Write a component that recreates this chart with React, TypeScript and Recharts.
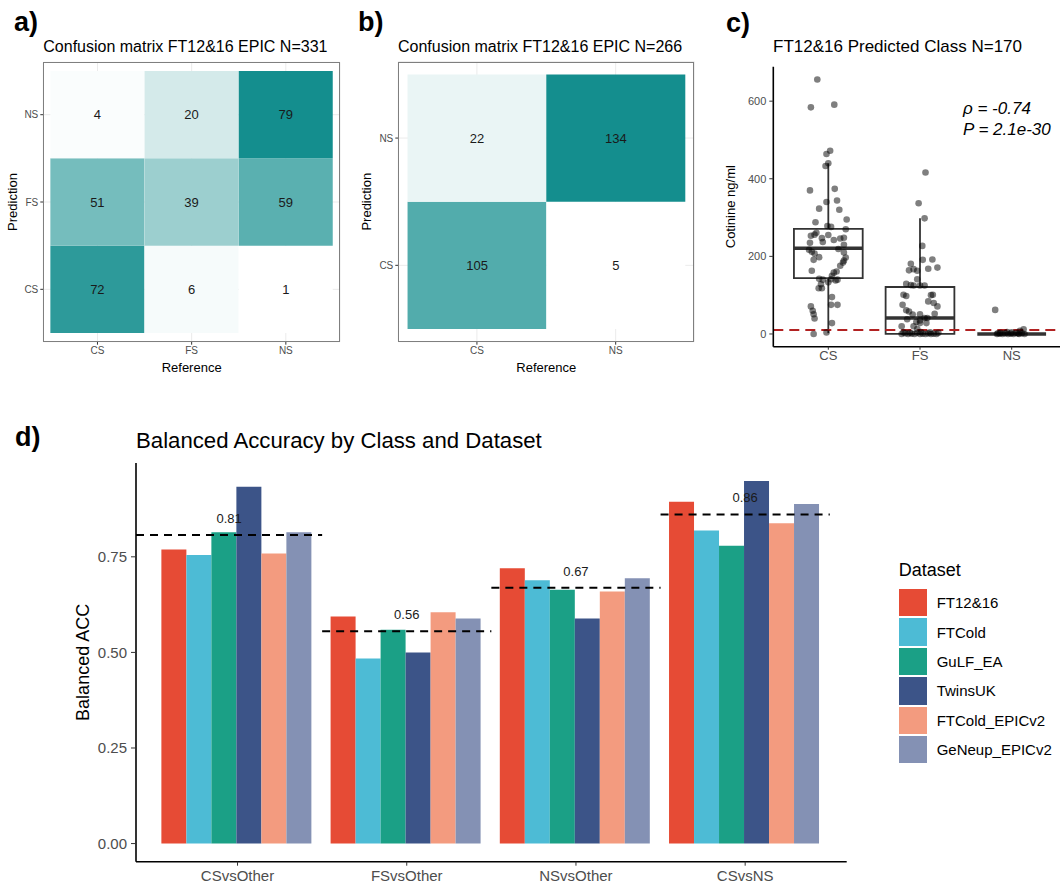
import React from 'react';
import {
  BarChart,
  Bar,
  XAxis,
  YAxis,
  CartesianGrid,
  Cell,
  LabelList,
  ScatterChart,
  Scatter,
  ReferenceArea,
  ReferenceLine,
  Legend,
} from 'recharts';

// ---- panel a / b: confusion matrices (rows = Prediction, bottom to top) ----
const CLASSES3 = ['CS', 'FS', 'NS'];
const CLASSES2 = ['CS', 'NS'];
const matrixA = [
  [72, 6, 1],
  [51, 39, 59],
  [4, 20, 79],
];
const matrixB = [
  [105, 5],
  [22, 134],
];

// ---- panel c: cotinine by predicted class, [jitter, ng/ml] ----
const cotCS: [number, number][] = [
  [-0.12, 656], [-0.19, 584], [0.065, 591], [0.02, 472], [-0.02, 464], [0, 440], [-0.03, 433],
  [-0.2, 370], [0.07, 374], [-0.02, 340], [0.095, 344], [-0.1, 323], [0.12, 320], [0.2, 295],
  [-0.14, 288], [-0.01, 278], [0.03, 276], [0.19, 270], [-0.19, 253], [-0.15, 256], [-0.13, 261],
  [-0.07, 247], [0, 255], [0.06, 242], [0.13, 246], [0.17, 248], [-0.2, 235], [-0.06, 237],
  [0.17, 230], [-0.21, 217], [-0.18, 212], [-0.15, 207], [0.11, 219], [0.17, 210], [0.19, 197],
  [0.17, 189], [-0.1, 198], [-0.16, 191], [0.16, 184], [0.13, 176], [-0.18, 163], [0.09, 161],
  [0.06, 158], [0.04, 150], [-0.1, 142], [-0.06, 140], [0.03, 141], [0.1, 140], [0.08, 138],
  [0, 133], [-0.08, 128], [-0.105, 118], [-0.07, 118], [0.04, 95], [0.03, 75], [0.1, 75],
  [-0.19, 71], [-0.17, 60], [-0.16, 51], [-0.15, 40], [0.04, 28], [-0.02, 4], [-0.16, 0],
];
const cotFS: [number, number][] = [
  [0.06, 416], [-0.015, 337], [0.05, 298], [0.025, 227], [-0.1, 181], [0.03, 191], [0.135, 192],
  [-0.07, 167], [-0.03, 163], [0.09, 168], [0.19, 171], [-0.12, 164], [-0.03, 141], [-0.15, 129],
  [-0.1, 126], [-0.07, 125], [0, 125], [0.05, 125], [-0.18, 101], [-0.15, 98], [0.14, 101],
  [0.12, 100], [0.09, 84], [0.15, 80], [0.19, 71], [-0.19, 75], [-0.15, 61], [-0.12, 58],
  [0, 51], [-0.08, 50], [0.16, 52], [0.08, 41], [0.05, 41], [-0.14, 38], [0, 35], [-0.04, 31],
  [0, 28], [0.07, 28], [-0.2, 20], [-0.07, 20], [-0.03, 13], [-0.2, 0], [-0.16, 2], [-0.13, 0],
  [-0.09, 1], [-0.06, 0], [-0.03, 3], [0, 0], [0.03, 1], [0.06, 0], [0.09, 2], [0.12, 0],
  [0.15, 1], [0.18, 0], [0.2, 3], [-0.18, 4], [-0.11, 3], [0.01, 5], [0.11, 4],
];
const cotNS: [number, number][] = [
  [-0.18, 62], [-0.16, 0], [-0.13, 1], [-0.1, 0], [-0.07, 2], [-0.04, 0], [-0.01, 1], [0.02, 0],
  [0.05, 3], [0.08, 0], [0.11, 2], [0.13, 12], [0.09, 8], [-0.12, 3], [0, 4], [-0.05, 5],
  [0.07, 1], [-0.15, 2], [0.14, 0],
];
// box stats per class: lower whisker, Q1, median, Q3, upper whisker
const boxLo = [2, 0, 0];
const boxQ1 = [144, 0, 0];
const boxMed = [221, 41, 0];
const boxQ3 = [271, 121, 0];
const boxHi = [440, 298, 0];
const cotTicks = [0, 200, 400, 600];

// ---- panel d: balanced accuracy ----
const comparisons = ['CSvsOther', 'FSvsOther', 'NSvsOther', 'CSvsNS'];
const datasets = ['FT12&16', 'FTCold', 'GuLF_EA', 'TwinsUK', 'FTCold_EPICv2', 'GeNeup_EPICv2'];
const accFT1216 = [0.769, 0.594, 0.72, 0.894];
const accFTCold = [0.755, 0.484, 0.689, 0.819];
const accGuLF = [0.814, 0.559, 0.664, 0.779];
const accTwins = [0.933, 0.5, 0.589, 0.948];
const accFTColdV2 = [0.759, 0.605, 0.659, 0.838];
const accGeNeup = [0.814, 0.589, 0.694, 0.888];
const accTicks = [0, 0.25, 0.5, 0.75];

const accSeries = [accFT1216, accFTCold, accGuLF, accTwins, accFTColdV2, accGeNeup];
const npg = ['#E64B35', '#4DBBD5', '#1BA086', '#3C5488', '#F39B7F', '#8491B4'];

const FONT = "'Liberation Sans', Arial, Helvetica, sans-serif";
const AXIS_TXT = '#4d4d4d';

function tileColor(v: number, lo: number, hi: number) {
  const t = Math.pow((v - lo) / (hi - lo), 1.2);
  const mix = (a: number, b: number) => Math.round(a + (b - a) * t);
  return `rgb(${mix(255, 20)},${mix(255, 142)},${mix(255, 142)})`;
}

interface HeatProps {
  cols: string[];
  rows: string[];
  counts: number[][];
  left: number;
  width: number;
  height: number;
  margin: { top: number; right: number; bottom: number; left: number };
  yAxisWidth: number;
  labelOffset: number;
}

function Heatmap({ cols, rows, counts, left, width, height, margin, yAxisWidth, labelOffset }: HeatProps) {
  const xAxisHeight = 30;
  const plotLeft = margin.left + yAxisWidth;
  const plotW = width - plotLeft - margin.right;
  const plotH = height - margin.top - margin.bottom - xAxisHeight;
  const pad = (plotW / (cols.length + 1.2)) * 0.1;
  const flat = counts.flat();
  const lo = Math.min(...flat);
  const hi = Math.max(...flat);

  const data = cols.map((c, j) => {
    const d: Record<string, number | string> = { refClass: c, base: 0.5 };
    rows.forEach((_, i) => {
      d['r' + i] = 1;
      d['n' + i] = counts[i][j];
    });
    return d;
  });

  return (
    <div style={{ position: 'absolute', left, top: 0, width, height }}>
      <BarChart width={width} height={height} data={data} margin={margin} barCategoryGap={0} barGap={0}>
        <CartesianGrid stroke="#ebebeb" strokeWidth={1} />
        <XAxis
          dataKey="refClass"
          padding={{ left: pad, right: pad }}
          interval={0}
          axisLine={false}
          tickLine={{ stroke: '#333' }}
          tickSize={3}
          tickMargin={2}
          tick={{ fontSize: 10, fill: AXIS_TXT }}
          height={xAxisHeight}
          label={{ value: 'Reference', position: 'insideBottom', offset: 0, fontSize: 13, fill: '#000' }}
        />
        <YAxis
          type="number"
          domain={[0.4, rows.length + 0.6]}
          allowDataOverflow
          ticks={rows.map((_, i) => i + 1)}
          tickFormatter={(v: number) => rows[v - 1]}
          interval={0}
          width={yAxisWidth}
          axisLine={false}
          tickLine={{ stroke: '#333' }}
          tickSize={3}
          tickMargin={2}
          tick={{ fontSize: 10, fill: AXIS_TXT }}
          label={{
            value: 'Prediction',
            angle: -90,
            position: 'insideLeft',
            offset: labelOffset,
            fontSize: 13,
            fill: '#000',
            style: { textAnchor: 'middle' },
          }}
        />
        <Bar dataKey="base" stackId="t" fill="none" isAnimationActive={false} />
        {rows.map((r, i) => (
          <Bar key={r} dataKey={'r' + i} stackId="t" isAnimationActive={false}>
            {data.map((_, j) => (
              <Cell key={j} fill={tileColor(counts[i][j], lo, hi)} />
            ))}
            <LabelList dataKey={'n' + i} position="center" fill="#1a1a1a" fontSize={13} />
          </Bar>
        ))}
      </BarChart>
      <div
        style={{
          position: 'absolute',
          left: plotLeft,
          top: margin.top,
          width: plotW,
          height: plotH,
          border: '1px solid #7f7f7f',
          boxSizing: 'border-box',
          pointerEvents: 'none',
        }}
      />
    </div>
  );
}

function CotininePanel() {
  const pts = [cotCS, cotFS, cotNS].flatMap((arr, k) => arr.map(([j, v]) => ({ x: k + 1 + j, y: v })));
  const half = 0.375;
  return (
    <div style={{ position: 'absolute', left: 700, top: 0, width: 380, height: 380 }}>
      <ScatterChart width={380} height={380} margin={{ top: 66.7, right: 13.3, bottom: 0, left: 13.3 }}>
        <XAxis
          type="number"
          dataKey="x"
          domain={[0.4, 3.6]}
          allowDataOverflow
          ticks={[1, 2, 3]}
          interval={0}
          tickFormatter={(v: number) => CLASSES3[v - 1]}
          height={33.3}
          axisLine={{ stroke: '#000', strokeWidth: 1.6 }}
          tickLine={{ stroke: '#333' }}
          tickSize={3}
          tickMargin={1}
          tick={{ fontSize: 13, fill: AXIS_TXT }}
        />
        <YAxis
          type="number"
          dataKey="y"
          domain={[-32.8, 688.8]}
          allowDataOverflow
          ticks={cotTicks}
          interval={0}
          width={60}
          axisLine={{ stroke: '#000', strokeWidth: 1.6 }}
          tickLine={{ stroke: '#333' }}
          tickSize={4}
          tickMargin={3}
          tick={{ fontSize: 11, fill: AXIS_TXT }}
          label={{
            value: 'Cotinine ng/ml',
            angle: -90,
            position: 'insideLeft',
            offset: 16.7,
            fontSize: 13,
            fill: '#000',
            style: { textAnchor: 'middle' },
          }}
        />
        {CLASSES3.map((c, k) => (
          <ReferenceArea
            key={'box' + c}
            x1={k + 1 - half}
            x2={k + 1 + half}
            y1={boxQ1[k]}
            y2={boxQ3[k]}
            fill="none"
            fillOpacity={0}
            stroke="#333"
            strokeWidth={1.8}
          />
        ))}
        {CLASSES3.map((c, k) => (
          <ReferenceLine
            key={'med' + c}
            segment={[{ x: k + 1 - half, y: boxMed[k] }, { x: k + 1 + half, y: boxMed[k] }]}
            stroke="#333"
            strokeWidth={3.5}
          />
        ))}
        {CLASSES3.map((c, k) => (
          <ReferenceLine
            key={'wu' + c}
            segment={[{ x: k + 1, y: boxQ3[k] }, { x: k + 1, y: boxHi[k] }]}
            stroke="#333"
            strokeWidth={1.8}
          />
        ))}
        {CLASSES3.map((c, k) => (
          <ReferenceLine
            key={'wl' + c}
            segment={[{ x: k + 1, y: boxLo[k] }, { x: k + 1, y: boxQ1[k] }]}
            stroke="#333"
            strokeWidth={1.8}
          />
        ))}
        <ReferenceLine y={10} stroke="#B22222" strokeWidth={2} strokeDasharray="10 6" />
        <Scatter
          data={pts}
          isAnimationActive={false}
          shape={(p: any) => <circle cx={p.cx} cy={p.cy} r={3.3} fill="#000" fillOpacity={0.5} />}
        />
      </ScatterChart>
    </div>
  );
}

function DatasetLegend(props: any) {
  const payload: any[] = [...(props.payload || [])].sort(
    (a, b) => datasets.indexOf(a.value) - datasets.indexOf(b.value),
  );
  return (
    <div style={{ fontFamily: FONT, color: '#000' }}>
      <div style={{ fontSize: 18, lineHeight: '18px', marginBottom: 9 }}>Dataset</div>
      {payload.map((p) => (
        <div key={p.value} style={{ display: 'flex', alignItems: 'center', height: 29.4 }}>
          <span
            style={{ display: 'inline-block', width: 28, height: 27.5, background: npg[datasets.indexOf(p.value)] }}
          />
          <span style={{ marginLeft: 10, fontSize: 15 }}>{p.value}</span>
        </div>
      ))}
    </div>
  );
}

function AccuracyPanel() {
  const data = comparisons.map((c, i) => {
    const d: Record<string, number | string> = { pos: i + 1, cmp: c };
    datasets.forEach((ds, k) => {
      d[ds] = accSeries[k][i];
    });
    return d;
  });
  const means = comparisons.map((_, i) => accSeries.reduce((s, a) => s + a[i], 0) / accSeries.length);

  return (
    <div style={{ position: 'absolute', left: 0, top: 400, width: 1060, height: 484 }}>
      <BarChart
        width={1060}
        height={484}
        data={data}
        margin={{ top: 63, right: 213.3, bottom: 0, left: 56 }}
        barCategoryGap="5%"
        barGap={0}
      >
        <XAxis
          type="number"
          dataKey="pos"
          domain={[0.4, 4.6]}
          allowDataOverflow
          ticks={comparisons.map((_, i) => i + 1)}
          tickFormatter={(v: number) => comparisons[v - 1]}
          interval={0}
          height={22.3}
          axisLine={{ stroke: '#000', strokeWidth: 1.6 }}
          tickLine={{ stroke: '#333' }}
          tickSize={4}
          tickMargin={5}
          tick={{ fontSize: 15, fill: AXIS_TXT }}
        />
        <YAxis
          type="number"
          domain={[-0.0474, 0.9954]}
          allowDataOverflow
          ticks={accTicks}
          interval={0}
          tickFormatter={(v: number) => v.toFixed(2)}
          width={80}
          axisLine={{ stroke: '#000', strokeWidth: 1.6 }}
          tickLine={{ stroke: '#333' }}
          tickSize={5}
          tickMargin={4}
          tick={{ fontSize: 15, fill: AXIS_TXT }}
          label={{
            value: 'Balanced ACC',
            angle: -90,
            position: 'insideLeft',
            offset: 26.5,
            fontSize: 18,
            fill: '#000',
            style: { textAnchor: 'middle' },
          }}
        />
        {datasets.map((ds, k) => (
          <Bar key={ds} dataKey={ds} name={ds} fill={npg[k]} isAnimationActive={false} />
        ))}
        {means.map((m, i) => (
          <ReferenceLine
            key={'mean' + i}
            segment={[{ x: i === 0 ? 0.4 : i + 0.5, y: m }, { x: i + 1.5, y: m }]}
            stroke="#000"
            strokeWidth={2}
            strokeDasharray="8 6"
            ifOverflow="visible"
            label={{ value: m.toFixed(2), position: 'top', offset: 12, fontSize: 13, fill: '#1a1a1a' }}
          />
        ))}
        <Legend
          layout="vertical"
          align="center"
          verticalAlign="middle"
          content={DatasetLegend}
          wrapperStyle={{ left: 898.7, top: 161, width: 161, height: 200 }}
        />
      </BarChart>
    </div>
  );
}

const tag: React.CSSProperties = { position: 'absolute', fontWeight: 700, fontSize: 27, lineHeight: 1 };
const title: React.CSSProperties = { position: 'absolute', lineHeight: 1, whiteSpace: 'nowrap' };

export default function App() {
  return (
    <div
      style={{
        position: 'absolute',
        left: 0,
        top: 0,
        width: 1060,
        height: 884,
        overflow: 'hidden',
        background: '#fff',
        fontFamily: FONT,
        color: '#000',
      }}
    >
      <Heatmap
        cols={CLASSES3}
        rows={CLASSES3}
        counts={matrixA}
        left={0}
        width={350}
        height={380}
        margin={{ top: 62.3, right: 10, bottom: 8.3, left: 10.3 }}
        yAxisWidth={33}
        labelOffset={2}
      />
      <Heatmap
        cols={CLASSES2}
        rows={CLASSES2}
        counts={matrixB}
        left={360}
        width={340}
        height={380}
        margin={{ top: 61.7, right: 5.7, bottom: 8.3, left: 4.3 }}
        yAxisWidth={34}
        labelOffset={2.4}
      />
      <CotininePanel />
      <AccuracyPanel />

      <div style={{ ...tag, left: 14, top: 9 }}>a)</div>
      <div style={{ ...tag, left: 358, top: 9 }}>b)</div>
      <div style={{ ...tag, left: 726, top: 10 }}>c)</div>
      <div style={{ ...tag, left: 15, top: 424 }}>d)</div>

      <div style={{ ...title, left: 43.3, top: 38.7, fontSize: 16 }}>Confusion matrix FT12&amp;16 EPIC N=331</div>
      <div style={{ ...title, left: 398, top: 38.7, fontSize: 16 }}>Confusion matrix FT12&amp;16 EPIC N=266</div>
      <div style={{ ...title, left: 773, top: 38.2, fontSize: 17 }}>FT12&amp;16 Predicted Class N=170</div>
      <div style={{ ...title, left: 136, top: 430, fontSize: 22.2 }}>Balanced Accuracy by Class and Dataset</div>

      <div style={{ ...title, left: 963, top: 100.2, fontSize: 17, fontStyle: 'italic' }}>ρ = -0.74</div>
      <div style={{ ...title, left: 963, top: 120.8, fontSize: 17, fontStyle: 'italic' }}>P = 2.1e-30</div>
    </div>
  );
}
